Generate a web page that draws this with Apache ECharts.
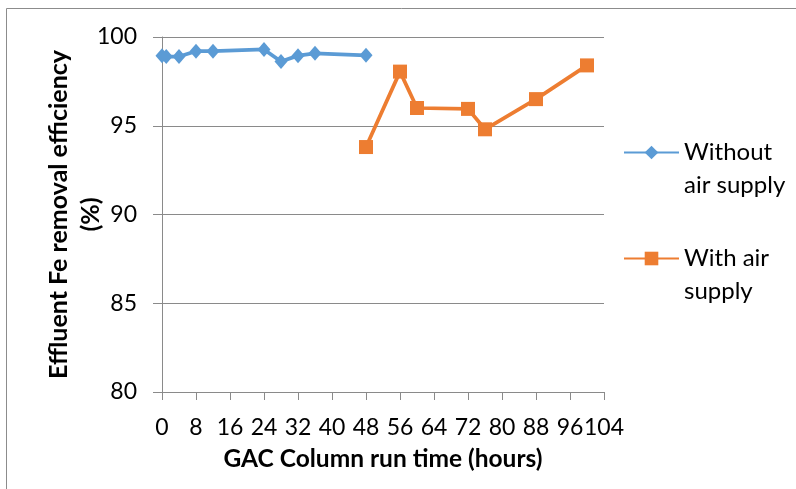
<!DOCTYPE html>
<html>
<head>
<meta charset="utf-8">
<script src="https://cdn.jsdelivr.net/npm/echarts@6/dist/echarts.min.js"></script>
<style>
  html, body { margin: 0; padding: 0; background: #fff; }
  #chart { width: 796px; height: 489px; }
</style>
</head>
<body>
<div id="chart"></div>
<script>
// Run time (hours) and Fe removal efficiency (%) for the two GAC column runs
const hoursWithout = [0, 1, 4, 8, 12, 24, 28, 32, 36, 48];
const effWithout = [98.95, 98.9, 98.9, 99.2, 99.2, 99.3, 98.62, 98.95, 99.08, 98.97];
const hoursWith = [48, 56, 60, 72, 76, 88, 100];
const effWith = [93.8, 98.05, 96.0, 95.95, 94.8, 96.5, 98.4];

const seriesNames = ['Without\nair supply', 'With air\nsupply'];
const xAxisTitle = 'GAC Column run time (hours)';
const yAxisTitle = 'Effluent Fe removal efficiency\n(%)';

const pairs = (xs, ys) => xs.map((x, i) => [x, ys[i]]);

const FONT = 'Lato';
const AXIS_GREY = '#8a8a8a';

const GRID = { left: 162, right: 192, top: 37, bottom: 97 };
const W = 796, H = 489;

const chart = echarts.init(document.getElementById('chart'), null, { renderer: 'canvas' });

chart.setOption({
  animation: false,
  backgroundColor: '#fff',
  textStyle: { fontFamily: FONT },
  graphic: [
    {
      // chart-area frame
      type: 'rect',
      shape: { x: 6.5, y: 8.5, width: 900, height: 600 },
      style: { fill: 'none', stroke: '#8c8c8c', lineWidth: 1 },
      silent: true,
      z: -1
    },
    {
      // vertical axis title, two lines, centred on the plot height
      type: 'text',
      x: 75,
      y: GRID.top + (H - GRID.top - GRID.bottom) / 2,
      rotation: Math.PI / 2,
      silent: true,
      style: {
        text: yAxisTitle,
        fontFamily: FONT,
        fontSize: 25,
        fontWeight: 'bold',
        lineHeight: 32,
        fill: '#000',
        align: 'center',
        verticalAlign: 'middle'
      }
    }
  ],
  grid: GRID,
  legend: {
    orient: 'vertical',
    left: 618,
    top: 98,
    padding: 5,
    itemWidth: 55,
    itemHeight: 17,
    itemGap: 7,
    selectedMode: false,
    // a leading blank line keeps the icon level with the first text line
    formatter: name => '\n' + name,
    textStyle: {
      fontFamily: FONT,
      fontSize: 24,
      color: '#000',
      lineHeight: 33
    },
    data: seriesNames
  },
  xAxis: {
    type: 'value',
    min: 0,
    max: 104,
    interval: 8,
    name: xAxisTitle,
    nameLocation: 'middle',
    nameGap: 55,
    nameTextStyle: { fontFamily: FONT, fontSize: 24.5, fontWeight: 'bold', color: '#000' },
    axisLine: { show: true, lineStyle: { color: AXIS_GREY, width: 1 } },
    axisTick: { show: true, length: 8, lineStyle: { color: AXIS_GREY } },
    axisLabel: { fontFamily: FONT, fontSize: 23, color: '#000', margin: 24 },
    splitLine: { show: false }
  },
  yAxis: {
    type: 'value',
    min: 80,
    max: 100,
    interval: 5,
    axisLine: { show: true, lineStyle: { color: AXIS_GREY, width: 1 } },
    axisTick: { show: true, length: 9, lineStyle: { color: AXIS_GREY } },
    axisLabel: { fontFamily: FONT, fontSize: 23, color: '#000', margin: 25 },
    splitLine: { show: true, lineStyle: { color: AXIS_GREY, width: 1 } }
  },
  series: [
    {
      name: seriesNames[0],
      type: 'line',
      data: pairs(hoursWithout, effWithout),
      symbol: 'diamond',
      symbolSize: [13, 15],
      showAllSymbol: true,
      lineStyle: { color: '#5B9BD5', width: 3.75 },
      itemStyle: { color: '#5B9BD5' },
      z: 3
    },
    {
      name: seriesNames[1],
      type: 'line',
      data: pairs(hoursWith, effWith),
      symbol: 'rect',
      symbolSize: 14,
      showAllSymbol: true,
      lineStyle: { color: '#ED7D31', width: 3.75 },
      itemStyle: { color: '#ED7D31' },
      z: 4
    }
  ]
});
</script>
</body>
</html>
